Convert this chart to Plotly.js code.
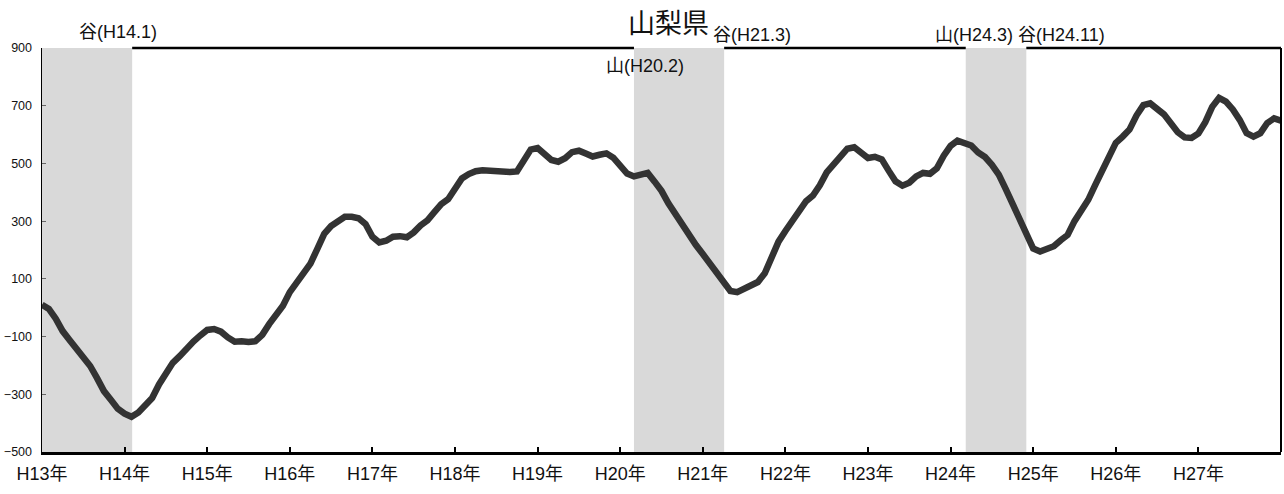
<!DOCTYPE html>
<html>
<head>
<meta charset="utf-8">
<script src="https://cdn.plot.ly/plotly-3.0.1.min.js"></script>
<style>html,body{margin:0;padding:0;background:#fff;}#chart{width:1284px;height:494px;}</style>
</head>
<body>
<div id="chart"></div>
<script>
// monthly values, H13.1 .. H28.1 (index 0 = H13年1月)
const values = [
  10, -4, -38, -81, -112, -142, -172, -202, -244, -289, -319, -350,
  -367, -378, -363, -338, -313, -266, -230, -191, -168, -138, -117, -96,
  -77, -74, -83, -103, -118, -116, -119, -116, -94, -57, -25, 7,
  54, 88, 117, 153, 204, 256, 283, 300, 315, 315, 310, 290,
  246, 226, 232, 246, 248, 244, 261, 285, 303, 331, 359, 376,
  411, 448, 463, 473, 476, 474, 476, 473, 470, 472, 509, 548,
  553, 532, 512, 506, 518, 539, 544, 534, 524, 530, 535, 520,
  493, 465, 455, 460, 467, 437, 405, 362, 324, 294, 257, 217,
  186, 155, 127, 92, 58, 54, 65, 76, 89, 119, 174, 229,
  266, 303, 338, 369, 389, 424, 469, 499, 526, 551, 556, 535,
  519, 523, 514, 475, 438, 423, 433, 455, 467, 464, 483, 527,
  561, 579, 573, 562, 538, 522, 495, 461, 412, 360, 309, 256,
  205, 195, 206, 213, 234, 252, 300, 334, 374, 425, 476, 527,
  571, 593, 618, 666, 702, 708, 687, 670, 639, 608, 590, 588,
  604, 643, 696, 727, 714, 687, 651, 605, 593, 605, 640, 656,
  648
];
const months = values.map((v, i) => i);
const tickPositions = [0, 12, 24, 36, 48, 60, 72, 84, 96, 108, 120, 132, 144, 156, 168];
const tickLabels = ["H13年","H14年","H15年","H16年","H17年","H18年","H19年","H20年","H21年","H22年","H23年","H24年","H25年","H26年","H27年"];
const yTicks = [-500, -300, -100, 100, 300, 500, 700, 900];
// recession bands (month index): start, end
const bandStart = [0, 86, 134.2];
const bandEnd = [13.1, 99.1, 143];

const FONT = '"Liberation Sans", Arial, "Noto Sans CJK JP", sans-serif';

const shapes = [];
// top border segments outside bands (bands cover the frame)
const segs = [[bandEnd[0], bandStart[1]], [bandEnd[1], bandStart[2]], [bandEnd[2], 180]];
segs.forEach(s => shapes.push({type:'line', xref:'x', yref:'paper', x0:s[0], x1:s[1], y0:1, y1:1,
  line:{color:'#000', width:2.5}, layer:'above'}));
bandStart.forEach((s, k) => shapes.push({type:'rect', xref:'x', yref:'paper', x0:s, x1:bandEnd[k], y0:0, y1:1,
  fillcolor:'#d9d9d9', line:{width:0}, layer:'below'}));
// right border
shapes.push({type:'line', xref:'paper', yref:'paper', x0:1, x1:1, y0:0, y1:1, line:{color:'#000', width:2}, layer:'above'});

const ann = (text, x, y, size) => ({text, xref:'paper', yref:'paper', x, y, showarrow:false,
  xanchor:'center', yanchor:'middle', font:{family:FONT, size:size, color:'#111'}});

const layout = {
  width: 1284, height: 494,
  margin: {l:42, r:3, t:48, b:42},
  paper_bgcolor:'#fff', plot_bgcolor:'rgba(0,0,0,0)',
  showlegend:false,
  xaxis: {range:[0,180], tickvals:tickPositions, ticktext:tickLabels, ticks:'inside', ticklen:5, tickwidth:2,
    tickcolor:'#000', showgrid:false, zeroline:false, showline:true, linecolor:'#000', linewidth:3,
    tickfont:{family:FONT, size:18, color:'#111'}, ticklabelstandoff:3, fixedrange:true},
  yaxis: {range:[-500,900], tickvals:yTicks, ticks:'inside', ticklen:4, tickwidth:1, tickcolor:'#666',
    showgrid:false, zeroline:false, showline:true, linecolor:'#000', linewidth:1.5,
    tickfont:{family:FONT, size:12.5, color:'#111'}, ticklabelstandoff:6, fixedrange:true},
  shapes: shapes,
  annotations: [
    ann('山梨県', 0.506, 1.060, 27),
    ann('谷(H14.1)', 0.0615, 1.040, 18),
    ann('谷(H21.3)', 0.573, 1.032, 18),
    ann('山(H20.2)', 0.487, 0.955, 18),
    ann('山(H24.3) 谷(H24.11)', 0.789, 1.032, 18)
  ]
};

Plotly.newPlot('chart', [{
  type:'scatter', mode:'lines', x:months, y:values,
  line:{color:'#333333', width:6.5, shape:'linear'}, hoverinfo:'none', cliponaxis:true
}], layout, {staticPlot:true, displayModeBar:false});
</script>
</body>
</html>
